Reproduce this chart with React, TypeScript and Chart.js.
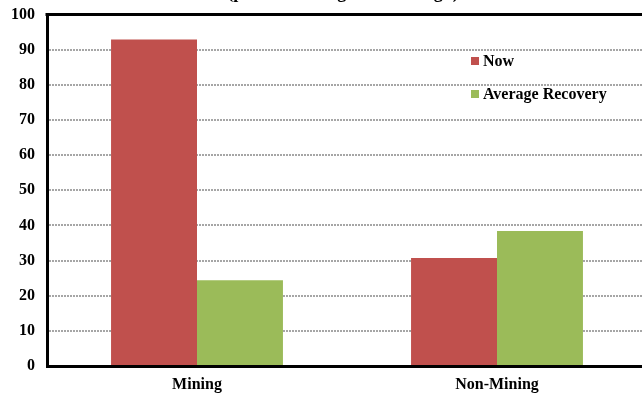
import React, { useEffect, useRef } from "react";
import { Chart, registerables } from "chart.js";

Chart.register(...registerables);

const categories = ["Mining", "Non-Mining"];
const nowValues = [92.9, 30.7];
const recoveryValues = [24.4, 38.4];
const seriesNames = ["Now", "Average Recovery"];
const seriesColors = ["#C0504D", "#9BBB59"];
const subtitle = "(per cent change from trough)";
const yMin = 0;
const yMax = 100;
const yStep = 10;

const FONT = "'Liberation Serif', 'Times New Roman', serif";
const SHIFT = 7;

const extrasPlugin = {
  id: "extras",
  afterDraw(chart: any) {
    const { ctx, chartArea } = chart;
    ctx.save();
    // top border
    ctx.strokeStyle = "#000";
    ctx.lineWidth = 3;
    ctx.beginPath();
    ctx.moveTo(chartArea.left - 1.5, chartArea.top);
    ctx.lineTo(chartArea.right, chartArea.top);
    ctx.stroke();
    // clipped subtitle
    ctx.fillStyle = "#000";
    ctx.font = `bold 18px ${FONT}`;
    ctx.textAlign = "center";
    ctx.textBaseline = "alphabetic";
    ctx.fillText(subtitle, 343, SHIFT - 2);
    // legend
    ctx.font = `bold 16px ${FONT}`;
    ctx.textAlign = "left";
    ctx.textBaseline = "middle";
    const lx = 471;
    const ys = [61 + SHIFT, 94 + SHIFT];
    chart.data.datasets.forEach((ds: any, i: number) => {
      ctx.fillStyle = ds.backgroundColor;
      ctx.fillRect(lx, ys[i] - 4, 8, 8);
      ctx.fillStyle = "#000";
      ctx.fillText(ds.label, lx + 12, ys[i] + 1);
    });
    ctx.restore();
  },
};

export default function App() {
  const ref = useRef<HTMLCanvasElement | null>(null);
  useEffect(() => {
    if (!ref.current) return;
    const chart = new Chart(ref.current, {
      type: "bar",
      data: {
        labels: categories,
        datasets: [
          {
            label: seriesNames[0],
            data: nowValues,
            backgroundColor: seriesColors[0],
            categoryPercentage: 0.573,
            barPercentage: 1,
          },
          {
            label: seriesNames[1],
            data: recoveryValues,
            backgroundColor: seriesColors[1],
            categoryPercentage: 0.573,
            barPercentage: 1,
          },
        ],
      },
      options: {
        responsive: false,
        animation: false,
        devicePixelRatio: 1,
        layout: { padding: { top: 5, right: 13, left: 0, bottom: 0 } },
        plugins: {
          legend: { display: false },
          tooltip: { enabled: false },
          title: { display: false },
        },
        scales: {
          x: {
            grid: { display: false },
            border: { color: "#000", width: 3 },
            ticks: {
              color: "#000",
              font: { family: FONT, size: 16, weight: "bold" },
              padding: 1,
            },
            afterFit(scale: any) {
              scale.height = 28;
            },
          },
          y: {
            min: yMin,
            max: yMax,
            border: { color: "#000", width: 3, dash: [2, 1] },
            grid: {
              color: (c: any) =>
                c.tick && (c.tick.value === yMax || c.tick.value === yMin)
                  ? "rgba(0,0,0,0)"
                  : "#a6a6a6",
              lineWidth: 2,
              drawTicks: false,
            },
            ticks: {
              stepSize: yStep,
              color: "#000",
              font: { family: FONT, size: 16, weight: "bold" },
              padding: 12,
            },
            afterFit(scale: any) {
              scale.width = 47;
            },
          },
        },
      },
      plugins: [extrasPlugin],
    });
    return () => chart.destroy();
  }, []);
  return (
    <div
      style={{
        position: "fixed",
        left: 0,
        top: 0,
        width: 642,
        height: 394,
        overflow: "hidden",
        background: "#fff",
      }}
    >
      <canvas
        ref={ref}
        width={660}
        height={394 + SHIFT}
        style={{ position: "absolute", left: 0, top: -SHIFT, width: 660, height: 394 + SHIFT }}
      />
    </div>
  );
}
